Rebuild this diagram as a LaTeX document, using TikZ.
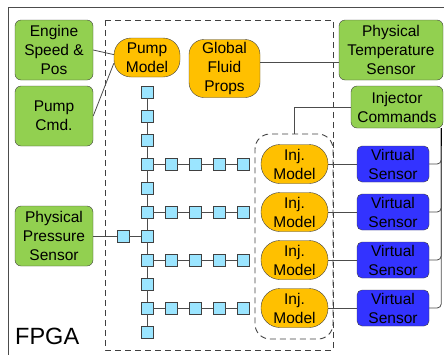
\documentclass[tikz,border=0pt]{standalone}
\usepackage{fontspec}
\setmainfont{Liberation Sans}
\definecolor{sensgreen}{HTML}{92D050}
\definecolor{modelorange}{HTML}{FFC000}
\definecolor{virtblue}{HTML}{3333FF}
\definecolor{pipecyan}{HTML}{9BE5FF}
\begin{document}
\begin{tikzpicture}[x=1pt,y=-1pt,
  box/.style={draw=black!75, align=center, inner sep=0pt, font=\fontsize{15.5}{19}\selectfont},
  sensorbox/.style={box, fill=sensgreen, rounded corners=6pt},
  modelbox/.style={box, fill=modelorange, rounded corners=17pt},
  virtbox/.style={box, fill=virtblue, rounded corners=5pt},
  pipe/.style={draw=black!75, fill=pipecyan, minimum size=12pt, inner sep=0pt},
  wire/.style={draw=black!70, line width=0.8pt},
  fence/.style={draw=black!75, line width=0.9pt, dash pattern=on 6pt off 4pt}
]
\useasboundingbox (0,0) rectangle (444,354);
\clip (0,0) rectangle (444,354);

% frames
\draw[black!70] (8.5,7.5) rectangle (480,400);
\draw[fence] (105,20) rectangle (333,350);
\node[fence, rounded corners=15pt, minimum width=78pt, minimum height=205pt] (injgrp) at (294,236.5) {};
\node[anchor=base west, inner sep=0pt, font=\fontsize{23.5}{28}\selectfont] (fpga) at (15,344) {FPGA};

% physical inputs
\node[sensorbox, minimum width=78pt, minimum height=60pt] (eng) at (54,50) {Engine\\Speed \&\\Pos};
\node[sensorbox, minimum width=78pt, minimum height=60pt] (cmd) at (54,116) {Pump\\Cmd.};
\node[sensorbox, minimum width=78pt, minimum height=60pt] (press) at (54,236) {Physical\\Pressure\\Sensor};
\node[sensorbox, minimum width=104pt, minimum height=60pt] (temp) at (391,50) {Physical\\Temperature\\Sensor};
\node[sensorbox, minimum width=92pt, minimum height=42pt] (injc) at (397,107) {Injector\\Commands};

% models
\node[modelbox, minimum width=66pt, minimum height=39pt] (pump) at (147,57.5) {Pump\\Model};
\node[modelbox, rounded corners=15pt, minimum width=71pt, minimum height=58pt] (glob) at (224.5,68.5) {Global\\Fluid\\Props};

\draw[wire] (eng.east) -- (pump.175);
\draw[wire] (cmd.east) -- (pump.190);
\draw[wire] ([yshift=6pt]glob.east) coordinate (g) -- (g -| temp.west);

% pipe network
\foreach \k in {0,...,10}
  \node[pipe] (p\k) at (147,92+24*\k) {};
\foreach \k [remember=\k as \j (initially 0)] in {1,...,10}
  \draw[wire] (p\j) -- (p\k);
\node[pipe] (q) at (123,236) {};
\draw[wire] (press.east) -- (q) -- (p6);

% injectors
\coordinate (bus) at ([xshift=-2pt]injc.south east);
\draw[wire] (injc.west) -| (injgrp.north);
\foreach \i/\k in {1/3,2/5,3/7,4/9} {
  \foreach \n/\x in {1/171,2/195,3/219,4/243}
    \node[pipe] (b\i\n) at (\x,92+24*\k) {};
  \draw[wire] (p\k) -- (b\i1) -- (b\i2) -- (b\i3) -- (b\i4);
  \node[modelbox, rounded corners=19pt, minimum width=67pt, minimum height=39pt] (inj\i) at (294.5,164+48*\i-48) {Inj.\\Model};
  \node[virtbox, minimum width=72pt, minimum height=36pt] (vs\i) at (393,164+48*\i-48) {Virtual\\Sensor};
  \draw[wire] (inj\i) -- (vs\i);
  \draw[wire, rounded corners=4pt] (vs\i.east) -| (bus);
}
\draw[black, line width=1pt] (bus) -- (bus |- vs1.north);
\end{tikzpicture}
\end{document}
